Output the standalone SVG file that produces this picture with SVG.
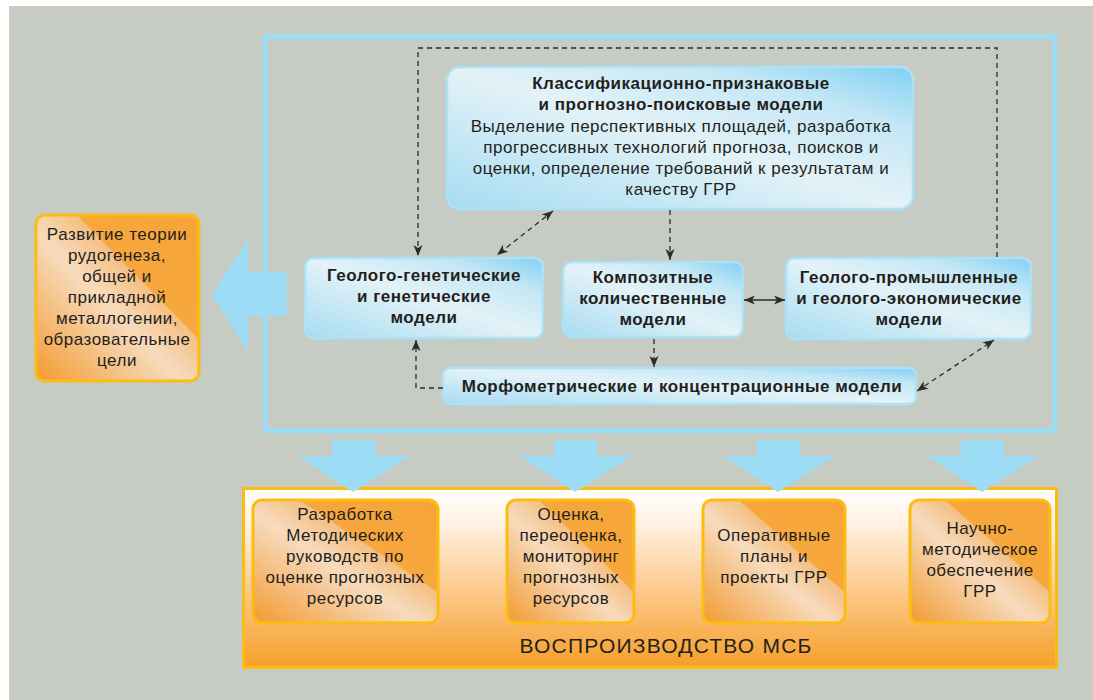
<svg xmlns="http://www.w3.org/2000/svg" width="1093" height="700" viewBox="0 0 1093 700">
<defs>
<style>
.t{font-family:"Liberation Sans",Arial,sans-serif;font-size:17px;letter-spacing:0.5px;fill:#231f20;text-anchor:middle}
.b{font-weight:bold}
.blue{fill:url(#gBlue);stroke:#ade1f5;stroke-width:2.5}
.org{fill:url(#gOrg);stroke:#fbbd12;stroke-width:3}
.dash{fill:none;stroke:#2b2b2b;stroke-width:1.3;stroke-dasharray:5 4}
.solid{fill:none;stroke:#2b2b2b;stroke-width:1.4}
.barrow{fill:#9cdcf5}
</style>
<linearGradient id="gBlue" x1="0" y1="1" x2="1" y2="0">
<stop offset="0" stop-color="#a6dcf2"/>
<stop offset="0.5" stop-color="#e3f2f7"/>
<stop offset="0.78" stop-color="#c4e7f5"/>
<stop offset="1" stop-color="#7fd0f3"/>
</linearGradient>
<linearGradient id="gOrg" x1="0" y1="1" x2="1" y2="0">
<stop offset="0" stop-color="#f29a30"/>
<stop offset="0.45" stop-color="#f7dbbd"/>
<stop offset="0.62" stop-color="#f4c084"/>
<stop offset="0.63" stop-color="#f7a73c"/>
<stop offset="1" stop-color="#f6a438"/>
</linearGradient>
<linearGradient id="gBig" x1="0" y1="0" x2="0" y2="1">
<stop offset="0" stop-color="#ffffff"/>
<stop offset="0.2" stop-color="#fff1e2"/>
<stop offset="0.6" stop-color="#fbc684"/>
<stop offset="1" stop-color="#f79f28"/>
</linearGradient>
<marker id="ah" markerUnits="userSpaceOnUse" markerWidth="12" markerHeight="10" refX="11" refY="4.5" orient="auto-start-reverse">
<path d="M0,0 L11,4.5 L0,9 L3,4.5 z" fill="#2b2b2b"/>
</marker>
</defs>
<rect x="0" y="0" width="1093" height="700" fill="#ffffff"/>
<rect x="9" y="6" width="1084" height="694" fill="#c6cbc3"/>

<g id="frame">
<rect x="265" y="36.5" width="789.5" height="394" fill="none" stroke="#9cdcf5" stroke-width="5"/>
</g>

<g id="left-arrow">
<polygon class="barrow" points="212,295 248,239 248,272 287,272 287,316 248,316 248,352"/>
</g>

<g id="node-theory">
<rect class="org" x="36" y="215" width="163" height="166" rx="9"/>
<text class="t"><tspan x="117" y="240">Развитие теории</tspan><tspan x="117" y="261">рудогенеза,</tspan><tspan x="117" y="282">общей и</tspan><tspan x="117" y="303">прикладной</tspan><tspan x="117" y="324">металлогении,</tspan><tspan x="117" y="345">образовательные</tspan><tspan x="117" y="366">цели</tspan></text>
</g>

<g id="node-classif">
<rect class="blue" x="447" y="67" width="466" height="142" rx="13"/>
<text class="t b"><tspan x="681" y="89">Классификационно-признаковые</tspan><tspan x="681" y="110">и прогнозно-поисковые модели</tspan></text>
<text class="t"><tspan x="681" y="132">Выделение перспективных площадей, разработка</tspan><tspan x="681" y="153">прогрессивных технологий прогноза, поисков и</tspan><tspan x="681" y="174">оценки, определение требований к результатам  и</tspan><tspan x="681" y="195">качеству ГРР</tspan></text>
</g>

<g id="node-genetic">
<rect class="blue" x="305" y="258" width="238" height="80" rx="9"/>
<text class="t b"><tspan x="424" y="281">Геолого-генетические</tspan><tspan x="424" y="302">и генетические</tspan><tspan x="424" y="323">модели</tspan></text>
</g>

<g id="node-composite">
<rect class="blue" x="563" y="262" width="180" height="75" rx="9"/>
<text class="t b"><tspan x="653" y="283">Композитные</tspan><tspan x="653" y="304">количественные</tspan><tspan x="653" y="325">модели</tspan></text>
</g>

<g id="node-industrial">
<rect class="blue" x="786" y="258" width="245" height="81" rx="9"/>
<text class="t b"><tspan x="909" y="283">Геолого-промышленные</tspan><tspan x="909" y="304">и геолого-экономические</tspan><tspan x="909" y="325">модели</tspan></text>
</g>

<g id="node-morpho">
<rect class="blue" x="443" y="368" width="473" height="36" rx="7"/>
<text class="t b" x="682" y="392">Морфометрические и концентрационные модели</text>
</g>

<g id="connectors">
<path class="dash" d="M997,257 V48 H418 V256" marker-end="url(#ah)"/>
<path class="dash" d="M553,211 L497,255" marker-start="url(#ah)" marker-end="url(#ah)"/>
<path class="dash" d="M670,210 V260" marker-end="url(#ah)"/>
<path class="solid" d="M744,300 H785" marker-start="url(#ah)" marker-end="url(#ah)"/>
<path class="dash" d="M654,339 V367" marker-end="url(#ah)"/>
<path class="dash" d="M443,388 H416 V340" marker-end="url(#ah)"/>
<path class="dash" d="M917,391 L994,340" marker-start="url(#ah)" marker-end="url(#ah)"/>
</g>

<g id="node-reproduction">
<rect x="243.5" y="488.5" width="813" height="179" fill="url(#gBig)" stroke="#fbbd12" stroke-width="3"/>
<text class="t" x="666" y="653" style="font-size:21px;letter-spacing:1.2px">ВОСПРОИЗВОДСТВО МСБ</text>
</g>

<g id="down-arrows">
<polygon class="barrow" points="332,440 375,440 375,456 410,456 353,492 298,456 332,456"/>
<polygon class="barrow" points="554,440 597,440 597,456 632,456 575,492 520,456 554,456"/>
<polygon class="barrow" points="757,440 800,440 800,456 835,456 778,492 723,456 757,456"/>
<polygon class="barrow" points="961,440 1004,440 1004,456 1039,456 982,492 927,456 961,456"/>
</g>

<g id="node-methods">
<rect class="org" x="253" y="500" width="185" height="123" rx="9"/>
<text class="t"><tspan x="345" y="520">Разработка</tspan><tspan x="345" y="541">Методических</tspan><tspan x="345" y="562">руководств по</tspan><tspan x="345" y="583">оценке прогнозных</tspan><tspan x="345" y="604">ресурсов</tspan></text>
</g>

<g id="node-assessment">
<rect class="org" x="507" y="500" width="127" height="123" rx="9"/>
<text class="t"><tspan x="571" y="520">Оценка,</tspan><tspan x="571" y="541">переоценка,</tspan><tspan x="571" y="562">мониторинг</tspan><tspan x="571" y="583">прогнозных</tspan><tspan x="571" y="604">ресурсов</tspan></text>
</g>

<g id="node-plans">
<rect class="org" x="703" y="500" width="142" height="123" rx="9"/>
<text class="t"><tspan x="774" y="541">Оперативные</tspan><tspan x="774" y="562">планы и</tspan><tspan x="774" y="583">проекты ГРР</tspan></text>
</g>

<g id="node-science">
<rect class="org" x="910" y="500" width="140" height="123" rx="9"/>
<text class="t"><tspan x="980" y="534">Научно-</tspan><tspan x="980" y="555">методическое</tspan><tspan x="980" y="576">обеспечение</tspan><tspan x="980" y="597">ГРР</tspan></text>
</g>
</svg>
